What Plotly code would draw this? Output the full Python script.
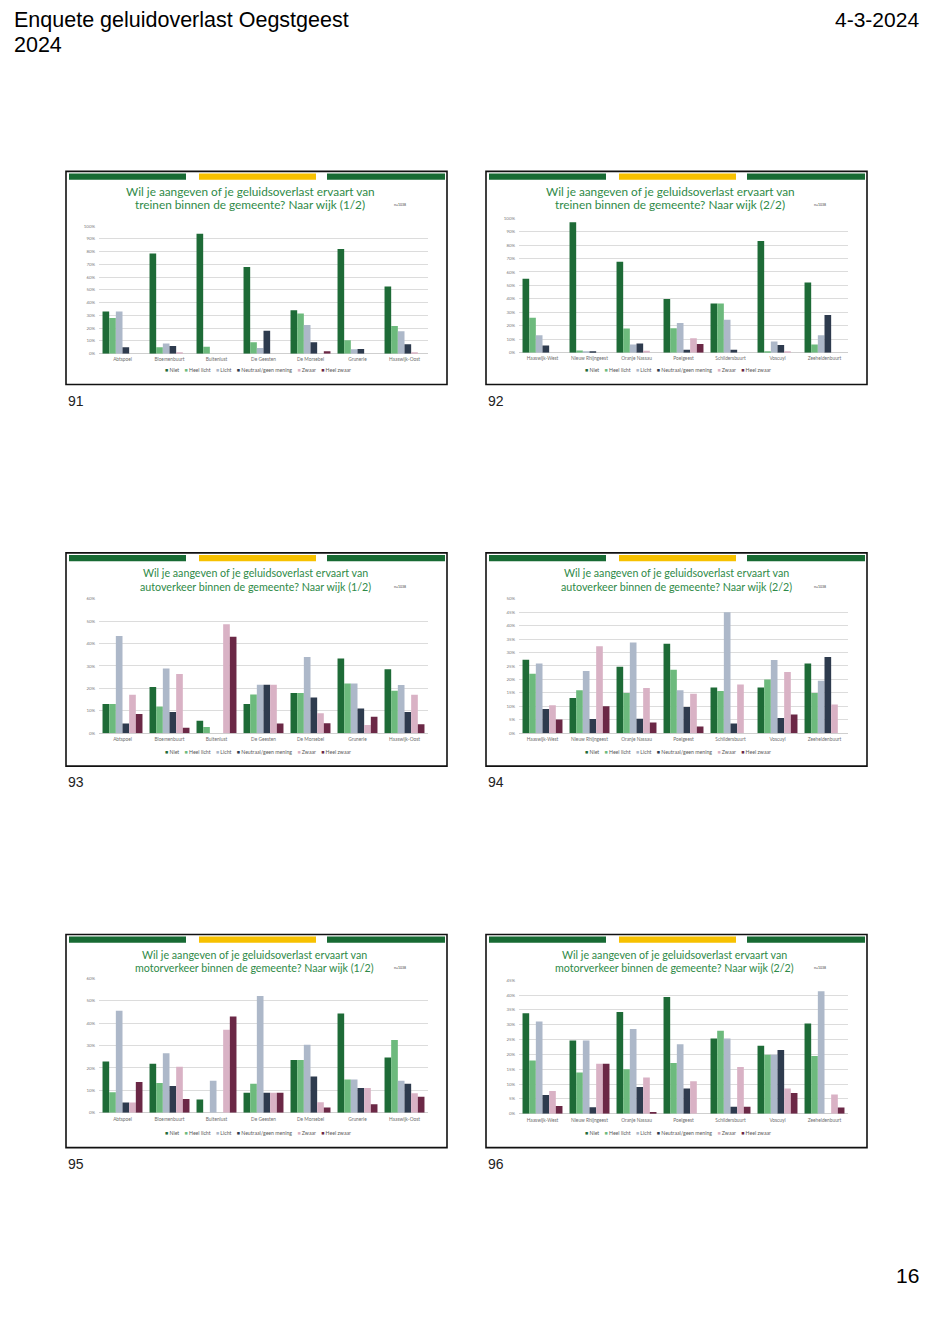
import plotly.graph_objects as go

# The page body has an 8px default margin; the figure is sized and positioned to compensate.
PAGE_OFF = 8
W, H = 933 - PAGE_OFF, 1320 - PAGE_OFF

# ---------------- data ----------------
series = ["Niet", "Heel licht", "Licht", "Neutraal/geen mening", "Zwaar", "Heel zwaar"]
colors = ["#1e6b37", "#6dba7d", "#adb8c9", "#2e3b4e", "#d9b2c5", "#6b2846"]

wijken_1 = ["Abtspoel", "Bloemenbuurt", "Buitenlust", "De Geesten", "De Morsebel", "Grunerie", "Haaswijk-Oost"]
wijken_2 = ["Haaswijk-West", "Nieuw Rhijngeest", "Oranje Nassau", "Poelgeest", "Schildersbuurt", "Voscuyl", "Zeeheldenbuurt"]

# one row per answer (series order), one value per wijk (%)
treinen_1 = [
    [33, 78.6, 94, 68, 34, 82, 52.7],
    [28, 5, 5.5, 9, 31.6, 10.5, 21.7],
    [33, 8, 0, 4.5, 22.5, 3.5, 17.5],
    [5, 6, 0, 18, 9, 3.7, 7.3],
    [0, 1, 0, 0, 0, 0, 1],
    [0, 0, 0, 0, 2, 0, 0],
]
treinen_2 = [
    [55, 97, 67.7, 40, 36.5, 83, 52.2],
    [26, 1.7, 18, 18.2, 36.5, 0.7, 6],
    [13, 0.5, 6, 22, 24.4, 8.4, 13],
    [5.4, 1, 6.9, 2.2, 2.2, 5.7, 28],
    [0, 0, 1.5, 10.8, 0, 1, 0],
    [0, 0, 0, 6.4, 0, 0, 0],
]
auto_1 = [
    [13, 20.6, 5.6, 13, 18, 33.3, 28.6],
    [13, 11.9, 2.8, 17.3, 18, 22.2, 19],
    [43.4, 28.9, 0, 21.6, 34, 22.2, 21.5],
    [4.3, 9.5, 0, 21.6, 15.9, 11, 9.5],
    [17.2, 26.4, 48.6, 21.6, 8.9, 3.7, 17.2],
    [8.6, 2.4, 43, 4.3, 4.4, 7.4, 4],
]
auto_2 = [
    [27.3, 13.1, 24.7, 33.3, 17, 17, 25.9],
    [22.1, 16, 15, 23.6, 15.7, 20, 15],
    [25.9, 23.1, 33.7, 16, 45, 27.2, 19.5],
    [9, 5.3, 5.4, 9.8, 3.6, 5.7, 28.3],
    [10.4, 32.3, 16.8, 14.7, 18.1, 22.8, 10.7],
    [5.1, 10, 4, 2.5, 0, 7, 0],
]
motor_1 = [
    [22.9, 21.9, 5.9, 8.9, 23.5, 44.3, 24.7],
    [9.2, 13.3, 0, 13, 23.5, 14.9, 32.5],
    [45.5, 26.6, 14.3, 52.1, 30.3, 14.9, 14.3],
    [4.6, 12, 0, 8.9, 16.2, 11.1, 12.9],
    [4.6, 20.5, 37.1, 8.9, 4.7, 11.1, 8.7],
    [13.7, 6.2, 43, 8.9, 2.4, 3.8, 7.1],
]
motor_2 = [
    [33.9, 24.7, 34.3, 39.4, 25.4, 22.9, 30.4],
    [18, 13.9, 15, 17.1, 28, 19.9, 19.5],
    [31.1, 24.7, 28.6, 23.4, 25.4, 19.9, 41.3],
    [6.3, 2.2, 9, 8.5, 2.4, 21.5, 0],
    [7.7, 16.9, 12.2, 11, 15.8, 8.5, 6.5],
    [2.6, 16.9, 0.6, 0, 2.4, 7, 2.1],
]

titles = [
    ("Wil je aangeven of je geluidsoverlast ervaart van", "treinen binnen de gemeente? Naar wijk (1/2)"),
    ("Wil je aangeven of je geluidsoverlast ervaart van", "treinen binnen de gemeente? Naar wijk (2/2)"),
    ("Wil je aangeven of je geluidsoverlast ervaart van", "autoverkeer binnen de gemeente? Naar wijk (1/2)"),
    ("Wil je aangeven of je geluidsoverlast ervaart van", "autoverkeer binnen de gemeente? Naar wijk (2/2)"),
    ("Wil je aangeven of je geluidsoverlast ervaart van", "motorverkeer binnen de gemeente? Naar wijk (1/2)"),
    ("Wil je aangeven of je geluidsoverlast ervaart van", "motorverkeer binnen de gemeente? Naar wijk (2/2)"),
]
slide_numbers = ["91", "92", "93", "94", "95", "96"]
y_max = [100, 100, 60, 50, 60, 45]
y_step = [10, 10, 10, 5, 10, 5]

# ---------------- layout helpers (page pixel -> paper) ----------------
def fx(px):
    return (px - PAGE_OFF) / W

def fy(py):
    return 1 - (py - PAGE_OFF) / H

slides = [
    dict(ox=66, oy=170, cats=wijken_1, vals=treinen_1, plot=(99, 428, 225, 353), tsize=11.8, tcx=184),
    dict(ox=486, oy=170, cats=wijken_2, vals=treinen_2, plot=(519, 848, 217, 352), tsize=11.8, tcx=184),
    dict(ox=66, oy=553, cats=wijken_1, vals=auto_1, plot=(99, 428, 599, 734), tsize=10.7, tcx=190),
    dict(ox=486, oy=553, cats=wijken_2, vals=auto_2, plot=(519, 848, 599, 734), tsize=10.7, tcx=190),
    dict(ox=66, oy=936, cats=wijken_1, vals=motor_1, plot=(99, 428, 980, 1115), tsize=10.7, tcx=188),
    dict(ox=486, oy=936, cats=wijken_2, vals=motor_2, plot=(519, 848, 982, 1116), tsize=10.7, tcx=188),
]

fig = go.Figure()
shapes = []
annotations = []
layout_axes = {}

for i, s in enumerate(slides):
    n = i + 1
    xa = "x" if n == 1 else f"x{n}"
    ya = "y" if n == 1 else f"y{n}"
    for j, name in enumerate(series):
        fig.add_trace(go.Bar(
            x=s["cats"], y=s["vals"][j], name=name,
            marker=dict(color=colors[j], line=dict(width=0)),
            xaxis=xa, yaxis=ya, showlegend=False,
        ))
    x0, x1, y0, y1 = s["plot"]
    layout_axes["xaxis" if n == 1 else f"xaxis{n}"] = dict(
        domain=[fx(x0), fx(x1)], anchor=ya, showline=False, ticks="",
        tickfont=dict(size=4.8, color="#6e6e6e", family="Lato"), showgrid=False,
        ticklabelstandoff=2, fixedrange=True,
    )
    layout_axes["yaxis" if n == 1 else f"yaxis{n}"] = dict(
        domain=[fy(y1), fy(y0)], anchor=xa, range=[0, y_max[i]], dtick=y_step[i],
        ticksuffix="%", showgrid=True, gridcolor="#dcdcdc", gridwidth=0.6,
        zeroline=True, zerolinecolor="#cfcfcf", zerolinewidth=0.8, showline=False,
        tickfont=dict(size=4.4, color="#7a7a7a", family="Lato"), ticks="",
        ticklabelstandoff=3, fixedrange=True,
    )

    ox, oy = s["ox"], s["oy"]
    # top decorative bars
    for bx0, bx1, col in [(3, 120, "#176a33"), (133, 250, "#f7c100"), (261, 379, "#176a33")]:
        shapes.append(dict(type="rect", xref="paper", yref="paper",
                           x0=fx(ox + bx0), x1=fx(ox + bx1), y0=fy(oy + 8.3), y1=fy(oy + 2),
                           fillcolor=col, line=dict(width=0), layer="above"))
    # slide border
    shapes.append(dict(type="rect", xref="paper", yref="paper",
                       x0=fx(ox), x1=fx(ox + 381), y0=fy(oy + 214), y1=fy(oy),
                       line=dict(color="#111111", width=1.6), fillcolor="rgba(0,0,0,0)", layer="above"))
    # title
    for k, line in enumerate(titles[i]):
        annotations.append(dict(text=line, xref="paper", yref="paper",
                                x=fx(ox + s["tcx"]), y=fy(oy + 20 + 13.3 * k),
                                xanchor="center", yanchor="middle", showarrow=False,
                                font=dict(size=s["tsize"], color="#2f8a48", family="Lato")))
    annotations.append(dict(text="n=1038", xref="paper", yref="paper",
                            x=fx(ox + 334), y=fy(oy + 34), xanchor="center", yanchor="middle",
                            showarrow=False, font=dict(size=3.5, color="#444444", family="Lato")))
    # legend
    leg = "    ".join(f"<span style='color:{c}'>■</span> {nm}" for nm, c in zip(series, colors))
    annotations.append(dict(text=leg, xref="paper", yref="paper",
                            x=fx(ox + 192), y=fy(oy + 199.5), xanchor="center", yanchor="middle",
                            showarrow=False, font=dict(size=5.2, color="#595959", family="Lato")))
    # slide number
    annotations.append(dict(text=slide_numbers[i], xref="paper", yref="paper",
                            x=fx(ox), y=fy(oy + 230), xanchor="left", yanchor="middle",
                            showarrow=False, font=dict(size=14, color="#222222", family="Liberation Sans")))

# page header / footer
annotations.append(dict(text="Enquete geluidoverlast Oegstgeest", xref="paper", yref="paper",
                        x=fx(12), y=fy(18), xanchor="left", yanchor="middle", showarrow=False,
                        font=dict(size=21.5, color="#000000", family="Liberation Sans")))
annotations.append(dict(text="2024", xref="paper", yref="paper",
                        x=fx(12), y=fy(43), xanchor="left", yanchor="middle", showarrow=False,
                        font=dict(size=21.5, color="#000000", family="Liberation Sans")))
annotations.append(dict(text="4-3-2024", xref="paper", yref="paper",
                        x=fx(921), y=fy(18), xanchor="right", yanchor="middle", showarrow=False,
                        font=dict(size=21, color="#000000", family="Liberation Sans")))
annotations.append(dict(text="16", xref="paper", yref="paper",
                        x=fx(921), y=fy(1278), xanchor="right", yanchor="middle", showarrow=False,
                        font=dict(size=21, color="#000000", family="Liberation Sans")))

fig.update_layout(
    width=W, height=H, margin=dict(l=0, r=0, t=0, b=0),
    paper_bgcolor="white", plot_bgcolor="white",
    barmode="group", bargap=0.15, bargroupgap=0,
    showlegend=False, shapes=shapes, annotations=annotations,
    **layout_axes,
)

fig.write_html("out.html")
